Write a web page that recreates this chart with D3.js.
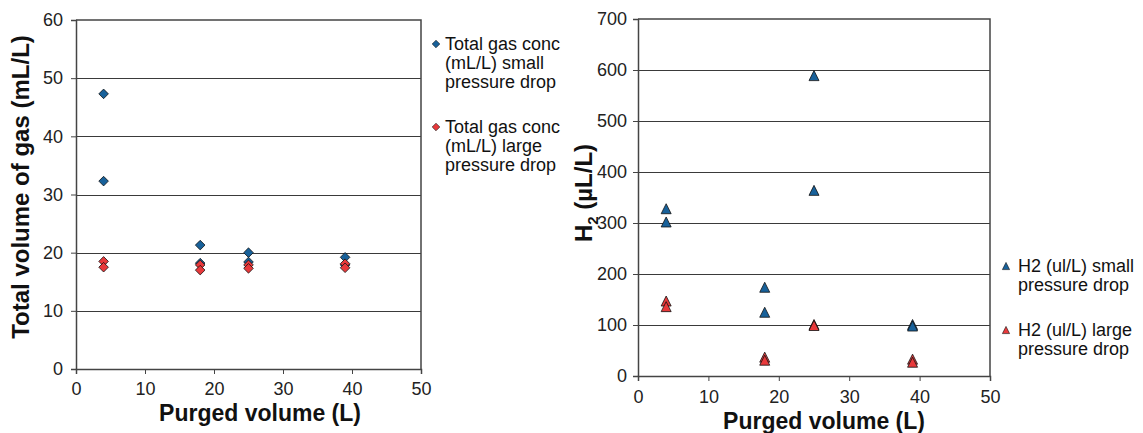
<!DOCTYPE html>
<html>
<head>
<meta charset="utf-8">
<script src="https://cdn.jsdelivr.net/npm/d3@7"></script>
<style>
  html, body { margin: 0; padding: 0; background: #fff; }
  svg { display: block; font-family: "Liberation Sans", Arial, sans-serif; }
</style>
</head>
<body>
<svg id="chart" width="1143" height="433"></svg>
<script>
// ---- data ----
const purgedVolume = [4, 4, 18, 18, 25, 25, 39, 39];
const gasSmall = [47.3, 32.3, 21.3, 18.2, 20.0, 18.4, 19.2, 17.9];
const gasLarge = [18.5, 17.5, 17.9, 17.0, 17.9, 17.3, 18.1, 17.4];
const h2Small = [328, 302, 174, 125, 589, 364, 101, 98];
const h2Large = [147, 136, 37, 31, 101, 99, 33, 27];
const xTicks = [0, 10, 20, 30, 40, 50];
const gasTicks = [0, 10, 20, 30, 40, 50, 60];
const h2Ticks = [0, 100, 200, 300, 400, 500, 600, 700];
const gasLegend = [["Total gas conc", "(mL/L) small", "pressure drop"], ["Total gas conc", "(mL/L) large", "pressure drop"]];
const h2Legend = [["H2 (ul/L) small", "pressure drop"], ["H2 (ul/L) large", "pressure drop"]];

const BLUE = "#18619a", RED = "#e8393b";
const svg = d3.select("#chart");

const diamond = r => `M0,${-r}L${r},0L0,${r}L${-r},0Z`;
const triangle = r => `M0,${-r}L${r},${r}L${-r},${r}Z`;

function panel(cfg) {
  const x = d3.scaleLinear().domain([0, 50]).range([cfg.x0, cfg.x1]);
  const y = d3.scaleLinear().domain(cfg.yDomain).range([cfg.y0, cfg.y1]);
  const g = svg.append("g");

  // gridlines
  g.append("g").selectAll("line").data(cfg.yTicks.slice(1, -1)).join("line")
    .attr("x1", cfg.x0).attr("x2", cfg.x1)
    .attr("y1", d => Math.round(y(d)) + 0.5).attr("y2", d => Math.round(y(d)) + 0.5)
    .attr("stroke", "#3a3a3a").attr("stroke-width", 1);

  // axes
  const ya = g.append("g").attr("transform", `translate(${cfg.x0},0)`)
    .call(d3.axisLeft(y).tickValues(cfg.yTicks).tickSize(5).tickPadding(cfg.yPad));
  const xa = g.append("g").attr("transform", `translate(0,${cfg.y0})`)
    .call(d3.axisBottom(x).tickValues(xTicks).tickSize(5).tickPadding(cfg.xPad));
  [ya, xa].forEach(a => {
    a.select(".domain").attr("stroke", "#444").attr("stroke-width", 1.5);
    a.selectAll(".tick line").attr("stroke", "#444");
    a.selectAll(".tick text").attr("font-size", 18).attr("fill", "#222")
      .attr("font-family", "Liberation Sans, Arial, sans-serif");
  });

  // border top & right
  g.append("path")
    .attr("d", `M${cfg.x0},${cfg.y1}H${cfg.x1}V${cfg.y0}`)
    .attr("fill", "none").attr("stroke", "#444").attr("stroke-width", 1.5);

  // points
  [[cfg.s1, BLUE], [cfg.s2, RED]].forEach(([vals, col]) => {
    g.append("g").selectAll("path").data(vals).join("path")
      .attr("d", cfg.shape(cfg.r))
      .attr("transform", (d, i) => `translate(${x(purgedVolume[i])},${y(d)})`)
      .attr("fill", col).attr("stroke", "#111").attr("stroke-width", 0.8);
  });

  // x title
  g.append("text").attr("x", cfg.xtX).attr("y", cfg.xtY)
    .attr("text-anchor", "middle").attr("font-size", 23).attr("font-weight", "bold")
    .attr("fill", "#111").text("Purged volume (L)");

  // legend
  cfg.legend.forEach((lines, k) => {
    const ly = cfg.legY[k];
    g.append("path").attr("d", cfg.shape(cfg.legR))
      .attr("transform", `translate(${cfg.legMX},${ly})`)
      .attr("fill", k === 0 ? BLUE : RED).attr("stroke", "#111").attr("stroke-width", 0.6);
    const t = g.append("text").attr("font-size", 18).attr("fill", "#111");
    lines.forEach((ln, j) => {
      t.append("tspan").attr("x", cfg.legTX).attr("y", ly + j * 19).attr("dy", "0.35em").text(ln);
    });
  });
  return g;
}

const left = panel({
  x0: 76, x1: 421, y0: 369, y1: 20, yDomain: [0, 60], yTicks: gasTicks,
  yPad: 8, xPad: 8, s1: gasSmall, s2: gasLarge,
  shape: diamond, r: 4.8,
  xtX: 260, xtY: 421,
  legend: gasLegend, legY: [44, 127], legMX: 436, legTX: 445, legR: 3.8
});
left.append("text")
  .attr("transform", "translate(29,187) rotate(-90)")
  .attr("text-anchor", "middle").attr("font-size", 24).attr("font-weight", "bold")
  .attr("fill", "#111").text("Total volume of gas (mL/L)");

const right = panel({
  x0: 638, x1: 990, y0: 376, y1: 19, yDomain: [0, 700], yTicks: h2Ticks,
  yPad: 6, xPad: 9, s1: h2Small, s2: h2Large,
  shape: triangle, r: 5,
  xtX: 824, xtY: 429,
  legend: h2Legend, legY: [266, 330], legMX: 1006, legTX: 1018, legR: 3.6
});
const yt = right.append("text")
  .attr("transform", "translate(592,193) rotate(-90)")
  .attr("text-anchor", "middle").attr("font-size", 24).attr("font-weight", "bold")
  .attr("fill", "#111");
yt.append("tspan").text("H");
yt.append("tspan").attr("font-size", 15).attr("dy", 6).text("2");
yt.append("tspan").attr("dy", -6).text(" (µL/L)");
</script>
</body>
</html>
